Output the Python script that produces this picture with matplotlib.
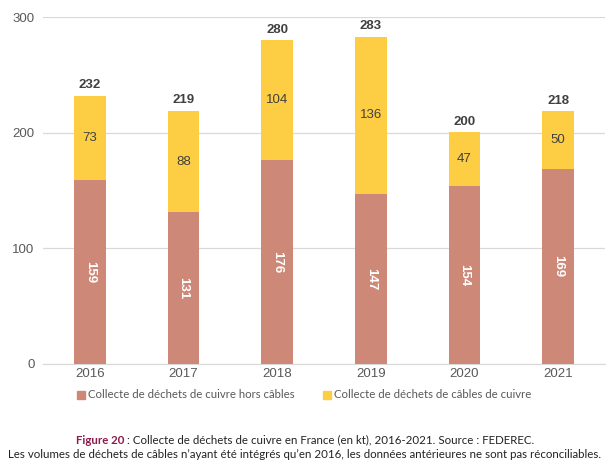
import numpy as np
import matplotlib
matplotlib.use("Agg")
import matplotlib.pyplot as plt
from matplotlib.patches import Rectangle

years = ["2016", "2017", "2018", "2019", "2020", "2021"]
hors_cables = [159, 131, 176, 147, 154, 169]
cables = [73, 88, 104, 136, 47, 50]
totals = [232, 219, 280, 283, 200, 218]

label_hors = "Collecte de déchets de cuivre hors câbles"
label_cables = "Collecte de déchets de câbles de cuivre"

RED = "#CE8878"
YELLOW = "#FDCE44"
GREY = "#595959"
CAP_FONT = ["Lato", "DejaVu Sans"]

plt.rcParams["font.family"] = ["Liberation Sans", "DejaVu Sans"]

fig = plt.figure(figsize=(6.1, 4.7), dpi=100)
fig.patch.set_facecolor("white")
ax = fig.add_axes([43 / 610, 1 - 364 / 470, 562 / 610, 347 / 470])

x = np.arange(len(years))
w = 0.34
ax.bar(x, hors_cables, width=w, color=RED, zorder=3)
ax.bar(x, cables, width=w, bottom=hors_cables, color=YELLOW, zorder=3)

for i in range(len(years)):
    ax.text(x[i], hors_cables[i] / 2, str(hors_cables[i]), rotation=-90,
            ha="center", va="center", color="white", fontsize=9.5,
            fontweight="bold", zorder=4)
    ax.text(x[i], hors_cables[i] + cables[i] / 2, str(cables[i]),
            ha="center", va="center", color="#404040", fontsize=9.5, zorder=4)
    ax.text(x[i], totals[i] + 4, str(totals[i]), ha="center", va="bottom",
            color="#404040", fontsize=9.5, fontweight="bold", zorder=4)

ax.set_xlim(-0.5, len(years) - 0.5)
ax.set_ylim(0, 300)
ax.set_yticks([0, 100, 200, 300])
ax.set_xticks(x)
ax.set_xticklabels(years)
ax.tick_params(axis="both", length=0, colors=GREY, labelsize=9.5)
ax.tick_params(axis="y", pad=6)
ax.tick_params(axis="x", pad=3)
ax.grid(axis="y", color="#D9D9D9", linewidth=0.9, zorder=0)
for s in ["top", "right", "left"]:
    ax.spines[s].set_visible(False)
ax.spines["bottom"].set_color("#D9D9D9")

# legend
for xm, col, lab in [(77, RED, label_hors), (323, YELLOW, label_cables)]:
    fig.patches.append(Rectangle((xm / 610, 1 - 398.5 / 470), 8 / 610, 8 / 470,
                                 transform=fig.transFigure, color=col))
    fig.text((xm + 11) / 610, 1 - 394.5 / 470, lab, ha="left", va="center",
             color=GREY, fontsize=8.2, family=CAP_FONT)

# caption, first line in two colours
cap1a = "Figure 20"
cap1b = " : Collecte de déchets de cuivre en France (en kt), 2016-2021. Source : FEDEREC."
cap2 = "Les volumes de déchets de câbles n’ayant été intégrés qu’en 2016, les données antérieures ne sont pas réconciliables."
y1 = 1 - 440 / 470
renderer = fig.canvas.get_renderer()
ta = fig.text(0, y1, cap1a, fontsize=8.3, family=CAP_FONT, fontweight="bold")
tb = fig.text(0, y1, cap1b, fontsize=8.3, family=CAP_FONT)
wa = ta.get_window_extent(renderer).width
wb = tb.get_window_extent(renderer).width
ta.remove()
tb.remove()
x0 = (fig.bbox.width - wa - wb) / 2
fig.text(x0 / fig.bbox.width, y1, cap1a, ha="left", va="center", fontsize=8.3,
         color="#8C1A4B", family=CAP_FONT, fontweight="bold")
fig.text((x0 + wa) / fig.bbox.width, y1, cap1b, ha="left", va="center",
         fontsize=8.3, color="#222222", family=CAP_FONT)
fig.text(0.5, 1 - 455 / 470, cap2, ha="center", va="center",
         fontsize=8.3, color="#222222", family=CAP_FONT)

fig.savefig("out.png", dpi=100, facecolor="white")
